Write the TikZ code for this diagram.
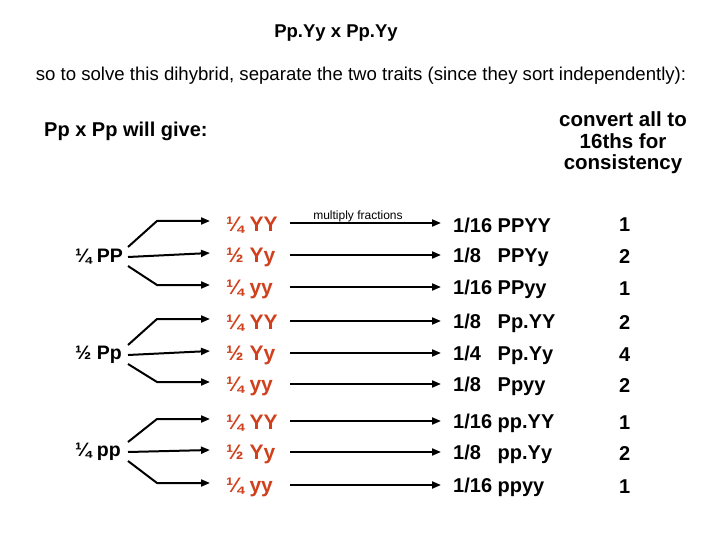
\documentclass[tikz,border=0pt]{standalone}
\usepackage{fontspec}
\setmainfont{Liberation Sans}
\usetikzlibrary{arrows.meta}
\definecolor{fr}{HTML}{D0401C}
\begin{document}
\begin{tikzpicture}[x=1pt,y=-1pt,
  arr/.style={line width=2pt,-{Triangle[length=9pt,width=7pt]}},
  frac/.style={anchor=west,font=\bfseries\fontsize{21}{22}\selectfont,text=fr,inner sep=0},
  res/.style={anchor=west,font=\bfseries\fontsize{20}{22}\selectfont,inner sep=0},
  num/.style={anchor=west,font=\bfseries\fontsize{20}{22}\selectfont,inner sep=0},
  par/.style={anchor=west,font=\bfseries\fontsize{19.5}{22}\selectfont,inner sep=0}]
\useasboundingbox (0,0) rectangle (720,540);
\node[font=\bfseries\fontsize{18.5}{20}\selectfont] (t) at (336,33) {Pp.Yy x Pp.Yy};
\node[font=\fontsize{18.6}{20}\selectfont] (s) at (361,76) {so to solve this dihybrid, separate the two traits (since they sort independently):};
\node[anchor=west,font=\bfseries\fontsize{20}{22}\selectfont,inner sep=0] (g) at (44,131) {Pp x Pp will give:};
\node[align=center,font=\bfseries\fontsize{20.5}{21.5}\selectfont] (c) at (623,143) {convert all to\\16ths for\\consistency};
\node[font=\fontsize{12}{13}\selectfont] (m) at (358,216) {multiply fractions};
\coordinate (k) at (157,0);
\foreach \i/\p/\y in {1/{¼ PP}/257, 2/{½ Pp}/355, 3/{¼ pp}/452}{
  \node[par] (p\i) at (75,\y) {\p};
  \coordinate (a\i) at (128,\y-10);
  \coordinate (b\i) at (128,\y);
  \coordinate (c\i) at (128,\y+9);
}
\def\rows{1/225/{¼ YY}/{1/16 PPYY}/1/1,
 2/257/{½ Yy}/{1/8\ \ \ PPYy}/2/1,
 3/289/{¼ yy}/{1/16 PPyy}/1/1,
 4/323/{¼ YY}/{1/8\ \ \ Pp.YY}/2/2,
 5/355/{½ Yy}/{1/4\ \ \ Pp.Yy}/4/2,
 6/386/{¼ yy}/{1/8\ \ \ Ppyy}/2/2,
 7/423/{¼ YY}/{1/16 pp.YY}/1/3,
 8/454/{½ Yy}/{1/8\ \ \ pp.Yy}/2/3,
 9/487/{¼ yy}/{1/16 ppyy}/1/3}
\foreach \k/\y/\f/\r/\n/\g in \rows{
  \node[frac] (f\k) at (226,\y) {\f};
  \node[res] (r\k) at (453,\y) {\r};
  \node[num] (n\k) at (619,\y) {\n};
  \coordinate (e\k) at (210,\y-4);
  \coordinate (s\k) at (290,\y-2);
  \coordinate (t\k) at (441,\y-2);
  \draw[arr] (s\k) -- (t\k);
}
\draw[arr] (a1) -- (e1 -| k) -- (e1);
\draw[arr] (b1) -- (e2);
\draw[arr] (c1) -- (e3 -| k) -- (e3);
\draw[arr] (a2) -- (e4 -| k) -- (e4);
\draw[arr] (b2) -- (e5);
\draw[arr] (c2) -- (e6 -| k) -- (e6);
\draw[arr] (a3) -- (e7 -| k) -- (e7);
\draw[arr] (b3) -- (e8);
\draw[arr] (c3) -- (e9 -| k) -- (e9);
\end{tikzpicture}
\end{document}
